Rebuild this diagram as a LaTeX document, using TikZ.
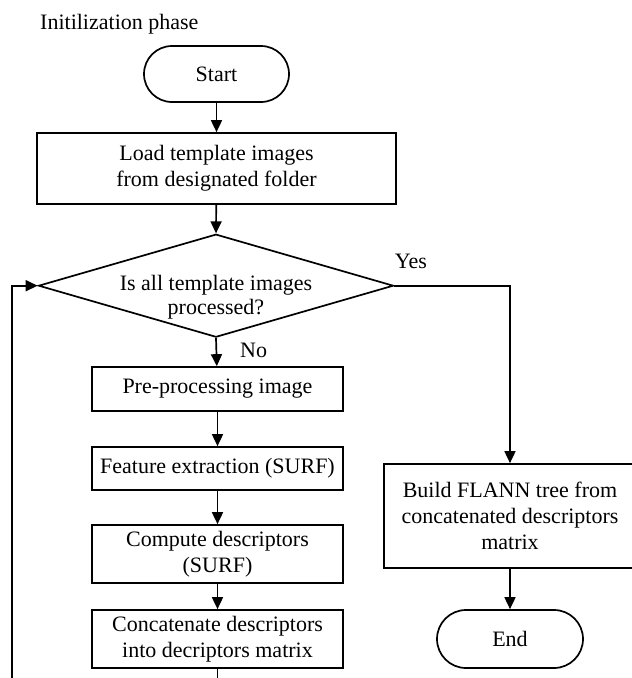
\documentclass[tikz,border=0pt]{standalone}
\usepackage{fontspec}
\setmainfont{Liberation Serif}
\usetikzlibrary{arrows.meta,shapes.geometric}
\begin{document}
\begin{tikzpicture}[x=1pt,y=-1pt,
  every node/.style={font=\fontsize{22pt}{26pt}\selectfont, text=black},
  box/.style={draw, line width=1.7pt, rectangle, align=center, inner sep=0pt},
  term/.style={draw, line width=1.7pt, rectangle, rounded corners=28pt, inner sep=0pt, minimum width=145pt, minimum height=56pt},
  decision/.style={draw, line width=1.7pt, diamond, aspect=3.45, inner sep=0pt, minimum width=355pt, minimum height=103pt},
  lbl/.style={inner sep=0pt},
  arr/.style={line width=1.7pt, -{Triangle[length=12pt,width=11pt]}},
  plain/.style={line width=1.7pt}
]
\clip (0,0) rectangle (632,678);
\fill[white] (0,0) rectangle (632,678);

\node[lbl, anchor=base west] (title) at (40,29) {Initilization phase};

\node[term] (start) at (216.5,74) {Start};
\node[box, minimum width=359pt, minimum height=71pt] (load) at (216.5,168.5) {Load template images\\from designated folder};
\node[decision] (dia) at (216,285.7) {\raisebox{-17pt}[0pt][0pt]{\fontsize{22pt}{24pt}\selectfont\begin{tabular}{@{}c@{}}Is all template images\\processed?\end{tabular}}};

\node[box, minimum width=251pt, minimum height=44pt] (pre) at (217.5,389) {Pre-processing image};
\node[box, minimum width=251pt, minimum height=43pt] (feat) at (217.5,468.5) {Feature extraction (SURF)};
\node[box, minimum width=251pt, minimum height=58pt] (comp) at (217.5,554) {Compute descriptors\\(SURF)};
\node[box, minimum width=251pt, minimum height=58pt] (conc) at (217.5,639) {Concatenate descriptors\\into decriptors matrix};

\node[box, minimum width=252pt, minimum height=104pt] (build) at (510,516) {Build FLANN tree from\\concatenated descriptors\\matrix};
\node[term, minimum width=146pt, minimum height=58pt, rounded corners=29pt] (end) at (510,639) {End};

\node[lbl, anchor=base] (yes) at (411,268) {Yes};
\node[lbl, anchor=base west] (no) at (240,357) {No};

\coordinate (cutR) at (217.5,680);
\coordinate (cutL) at (11.7,680);

\draw[arr] (start) -- (load);
\draw[arr] (load) -- (dia.north);
\draw[arr] (dia.south) -- (pre);
\draw[arr] (pre) -- (feat);
\draw[arr] (feat) -- (comp);
\draw[arr] (comp) -- (conc);
\draw[plain] (conc) -- (cutR);
\draw[arr] (cutL) |- (dia.west);
\draw[arr] (dia.east) -| (build.north);
\draw[arr] (build) -- (end);
\end{tikzpicture}
\end{document}
